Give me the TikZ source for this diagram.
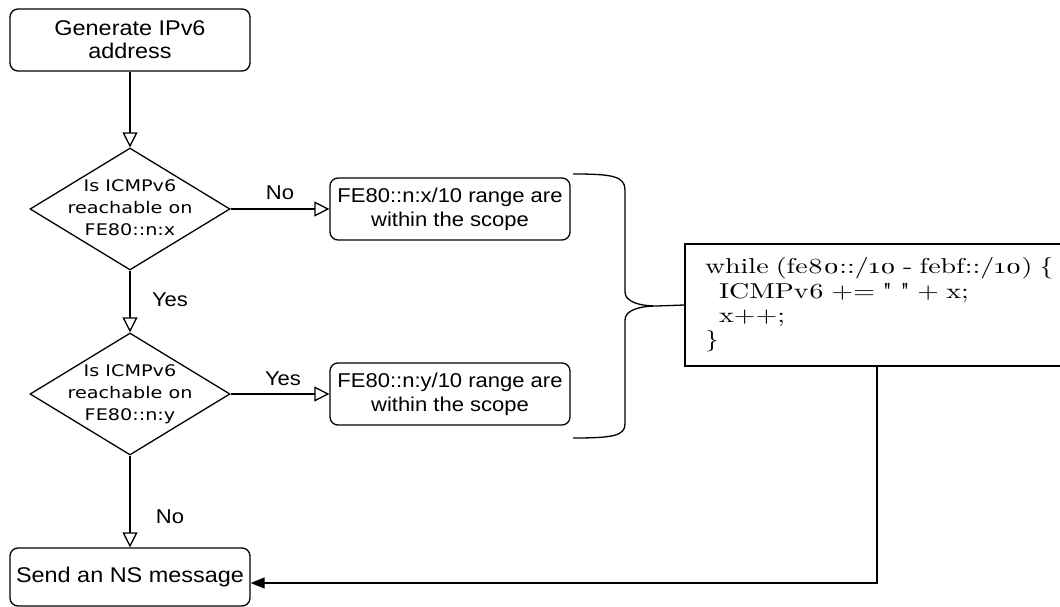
\documentclass[tikz,border=0pt]{standalone}
\usepackage{fontspec}
\setsansfont{Liberation Sans}[FakeStretch=1.1]
\newfontfamily\diafont{DejaVu Sans}[FakeStretch=1.2]
\newfontfamily\codefont{lmroman10-regular.otf}[FakeStretch=1.3, Numbers=OldStyle]
\usetikzlibrary{arrows.meta,shapes.geometric}
\newcommand\dtext[1]{\makebox[0pt]{\raisebox{-4pt}[0pt][0pt]{\diafont\fontsize{16}{22}\selectfont\begin{tabular}{@{}c@{}}#1\end{tabular}}}}
\tikzset{
  box/.style={draw, rounded corners=8pt, minimum width=240pt, minimum height=62pt,
    inner sep=2pt, align=center, font=\sffamily\fontsize{20}{24}\selectfont},
  bigtext/.style={font=\sffamily\fontsize{21.3}{23}\selectfont},
  dia/.style={draw, diamond, minimum width=200pt, minimum height=122pt, inner sep=0pt},
  lbl/.style={font=\sffamily\fontsize{20}{24}\selectfont, inner sep=0pt},
  flow/.style={draw, -{Triangle[open,length=15pt,width=15pt]}},
  codebox/.style={draw, minimum width=390pt, minimum height=122pt, text width=350pt,
    align=left, inner xsep=20pt, inner ysep=0pt, font=\codefont\fontsize{21.5}{24.3}\selectfont}
}
\begin{document}
\begin{tikzpicture}[x=1pt, y=-1pt, line width=1.3pt]
\useasboundingbox (0,0) rectangle (1060,607);
\fill[white] (0,0) rectangle (1060,607);

\node[box, bigtext] (gen) at (130,40) {Generate IPv6\\address};
\node[dia] (d1) at (130,209) {\dtext{Is ICMPv6\\reachable on\\FE80::n:x}};
\node[box] (b1) at (450,209) {FE80::n:x/10 range are\\within the scope};
\node[dia] (d2) at (130,394) {\dtext{Is ICMPv6\\reachable on\\FE80::n:y}};
\node[box] (b2) at (450,394) {FE80::n:y/10 range are\\within the scope};
\node[box, bigtext, minimum height=58pt] (send) at (130,577) {Send an NS message};
\node[codebox] (code) at (880,305) {while (fe80::/10 - febf::/10) \{\\
\hspace*{14pt}ICMPv6 += " " + x;\\
\hspace*{14pt}x++;\\
\}};

\node[lbl] (no1) at (280,193) {No};
\node[lbl] (yes1) at (170,300) {Yes};
\node[lbl] (yes2) at (283,379) {Yes};
\node[lbl] (no2) at (170,517) {No};

\draw[flow] (gen.south) -- (d1.north);
\draw[flow] (d1.east) -- (b1.west);
\draw[flow] (d1.south) -- (d2.north);
\draw[flow] (d2.east) -- (b2.west);
\draw[flow] (d2.south) -- (send.north);
\draw[-{Triangle[length=14pt,width=11pt]}] ([xshift=-3pt]code.south) |- ([yshift=-6pt]send.east);

% brace
\coordinate (tip) at (657,306);
\draw (573,174) .. controls (612,174) and (625,176) .. (625,190) -- (625,292)
  .. controls (625,302) and (640,306) .. (tip)
  .. controls (640,306) and (625,310) .. (625,320) -- (625,424)
  .. controls (625,436) and (612,438) .. (573,438);
\draw (tip) -- (code.west);
\end{tikzpicture}
\end{document}
